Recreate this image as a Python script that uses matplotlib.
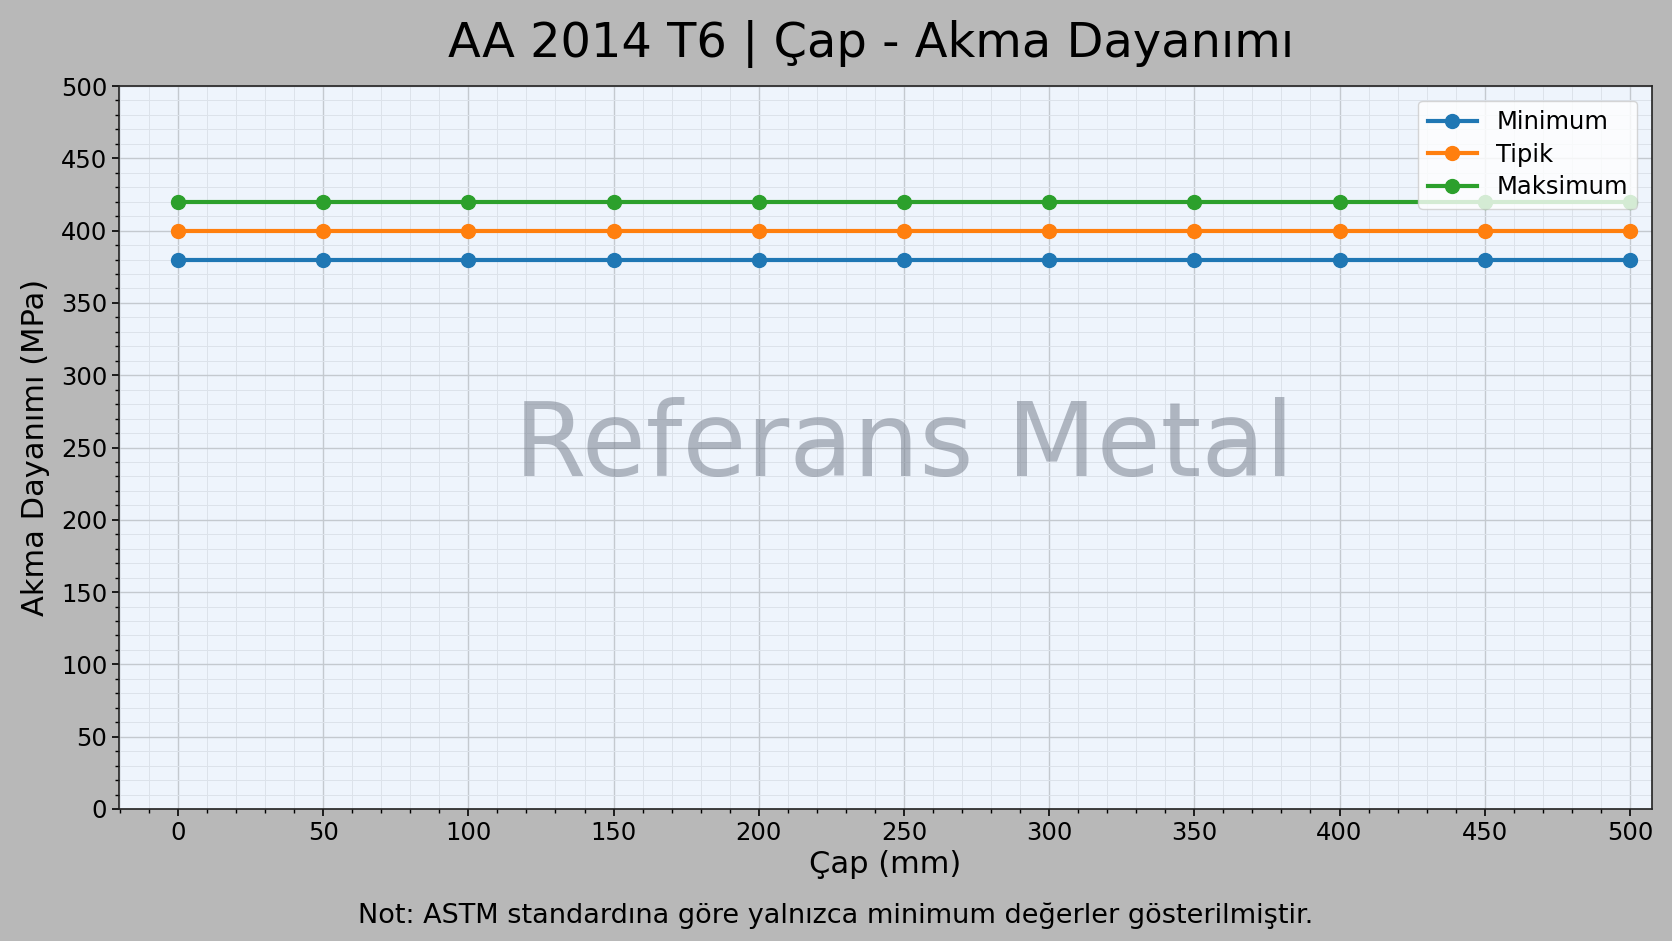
import matplotlib
matplotlib.use("Agg")
import matplotlib.pyplot as plt
from matplotlib.ticker import MultipleLocator

# veriler
cap_mm = [0, 50, 100, 150, 200, 250, 300, 350, 400, 450, 500]
minimum = [380, 380, 380, 380, 380, 380, 380, 380, 380, 380, 380]
tipik = [400, 400, 400, 400, 400, 400, 400, 400, 400, 400, 400]
maksimum = [420, 420, 420, 420, 420, 420, 420, 420, 420, 420, 420]
seri_adlari = ["Minimum", "Tipik", "Maksimum"]

baslik = "AA 2014 T6 | Çap - Akma Dayanımı"
not_metni = "Not: ASTM standardına göre yalnızca minimum değerler gösterilmiştir."

fig = plt.figure(figsize=(16.72, 9.41), dpi=100)
fig.patch.set_facecolor("#b8b8b8")
ax = fig.add_axes([119/1672, 132/941, 1533/1672, 723/941])
ax.set_facecolor("#eef4fc")

for y, ad in zip([minimum, tipik, maksimum], seri_adlari):
    ax.plot(cap_mm, y, marker="o", linewidth=3, markersize=10, label=ad, zorder=3)

ax.set_xlim(-20.3, 507.6)
ax.set_ylim(0, 500)
ax.xaxis.set_major_locator(MultipleLocator(50))
ax.xaxis.set_minor_locator(MultipleLocator(10))
ax.yaxis.set_major_locator(MultipleLocator(50))
ax.yaxis.set_minor_locator(MultipleLocator(10))
ax.grid(which="major", color="#c4c9cf", linewidth=1.0)
ax.grid(which="minor", color="#dce2ea", linewidth=0.7)
ax.set_axisbelow(True)
ax.tick_params(axis="both", which="major", labelsize=17.5, length=5, width=1.2)
ax.tick_params(axis="both", which="minor", length=3, width=1)
for s in ax.spines.values():
    s.set_linewidth(1.2)
    s.set_color("#222222")

ax.set_xlabel("Çap (mm)", fontsize=22, labelpad=4)
ax.set_ylabel("Akma Dayanımı (MPa)", fontsize=22, labelpad=8)

# filigran
ax.text(250, 250, "Referans Metal", fontsize=75, color="#7a8290", alpha=0.55,
        ha="center", va="center", zorder=2)

leg = ax.legend(loc="upper right", fontsize=17.5, framealpha=0.8, borderaxespad=0.6,
                labelspacing=0.35)
leg.set_zorder(5)

fig.text(871/1672, (941-57)/941, baslik, fontsize=34.5, ha="center", va="baseline")
fig.text(0.5, (941-923)/941, not_metni, fontsize=19.5, ha="center", va="baseline")

fig.savefig("out.png", dpi=100, facecolor=fig.get_facecolor())
